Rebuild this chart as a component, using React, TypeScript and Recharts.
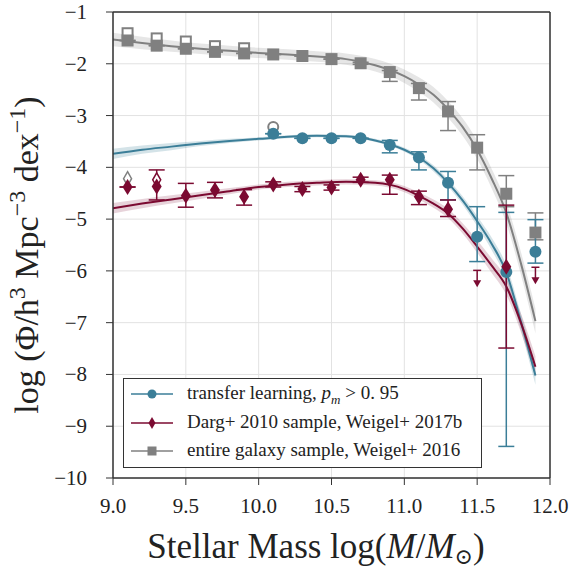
import React from "react";
import { Area, ComposedChart, CartesianGrid, ErrorBar, Line, Scatter, XAxis, YAxis } from "recharts";

document.body.style.margin = "0";

const TEAL = "#3b7e98";
const RED = "#7b0a31";
const GRAY = "#808080";
const FONT = "'Liberation Serif', 'DejaVu Serif', serif";

const xTicks = [9.0, 9.5, 10.0, 10.5, 11.0, 11.5, 12.0];
const yTicks = [-10, -9, -8, -7, -6, -5, -4, -3, -2, -1];

// Weigel+ 2016, whole sample
const grayX = [9.1, 9.3, 9.5, 9.7, 9.9, 10.1, 10.3, 10.5, 10.7, 10.9, 11.1, 11.3, 11.5, 11.7, 11.9];
const grayY = [-1.55, -1.65, -1.71, -1.77, -1.8, -1.82, -1.85, -1.91, -1.99, -2.16, -2.47, -2.92, -3.62, -4.51, -5.26];
const grayLo = [0, 0, 0, 0, 0, 0, 0, 0, 0.02, 0.18, 0.23, 0.37, 0.43, 0.25, 0.14];
const grayHi = [0, 0, 0, 0, 0, 0, 0, 0, 0.02, 0.03, 0.09, 0.19, 0.25, 0.35, 0.38];
const grayOpenX = [9.1, 9.3, 9.5, 9.7, 9.9];
const grayOpenY = [-1.41, -1.51, -1.57, -1.66, -1.7];

// transfer learning
const tealX = [10.1, 10.3, 10.5, 10.7, 10.9, 11.1, 11.3, 11.5, 11.7, 11.9];
const tealY = [-3.35, -3.44, -3.44, -3.44, -3.57, -3.81, -4.3, -5.34, -6.02, -5.63];
const tealLo = [0, 0, 0, 0, 0.15, 0.24, 0.33, 0.48, 3.37, 0.22];
const tealHi = [0, 0, 0, 0, 0.09, 0.11, 0.22, 0.58, 1.15, 0.62];
const tealOpenX = [10.1];
const tealOpenY = [-3.22];

// Darg+ 2010 sample
const redX = [9.1, 9.3, 9.5, 9.7, 9.9, 10.1, 10.3, 10.5, 10.7, 10.9, 11.1, 11.3, 11.7];
const redY = [-4.38, -4.37, -4.55, -4.44, -4.57, -4.33, -4.42, -4.39, -4.24, -4.24, -4.57, -4.81, -5.92];
const redLo = [0, 0.26, 0.22, 0.15, 0.16, 0.05, 0.05, 0.05, 0.05, 0.28, 0.15, 0.14, 1.57];
const redHi = [0, 0.32, 0.24, 0.15, 0.14, 0.05, 0.05, 0.05, 0.05, 0.09, 0.11, 0.18, 1.19];
const redLimX = [11.5, 11.9];
const redLimY = [-5.99, -5.93];
const grayDiamondX = [9.1];
const grayDiamondY = [-4.22];
const redDiamondX = [9.3];
const redDiamondY = [-4.24];

// Schechter fits
const fitX = [9.0, 9.2, 9.4, 9.6, 9.8, 10.0, 10.2, 10.4, 10.6, 10.8, 11.0, 11.1, 11.2, 11.3, 11.4, 11.5, 11.6, 11.7, 11.8, 11.9];
const grayFit = [-1.53, -1.6, -1.66, -1.71, -1.75, -1.79, -1.82, -1.86, -1.91, -2.03, -2.24, -2.4, -2.6, -2.88, -3.22, -3.66, -4.22, -4.88, -5.85, -6.97];
const grayBand = [0.13, 0.12, 0.11, 0.1, 0.1, 0.1, 0.1, 0.1, 0.11, 0.12, 0.13, 0.14, 0.15, 0.16, 0.17, 0.18, 0.19, 0.2, 0.22, 0.24];
const tealFit = [-3.74, -3.66, -3.6, -3.54, -3.49, -3.45, -3.41, -3.39, -3.4, -3.48, -3.66, -3.81, -4.02, -4.3, -4.64, -5.04, -5.48, -6.03, -6.98, -8.02];
const tealBand = [0.1, 0.08, 0.07, 0.05, 0.04, 0.03, 0.03, 0.03, 0.03, 0.03, 0.04, 0.05, 0.06, 0.07, 0.08, 0.1, 0.12, 0.14, 0.16, 0.18];
const redFit = [-4.79, -4.7, -4.62, -4.54, -4.46, -4.38, -4.33, -4.3, -4.28, -4.3, -4.42, -4.55, -4.7, -4.89, -5.18, -5.53, -5.9, -6.3, -7.0, -7.85];
const redBand = [0.1, 0.09, 0.08, 0.07, 0.06, 0.05, 0.05, 0.05, 0.05, 0.05, 0.06, 0.07, 0.08, 0.09, 0.1, 0.12, 0.14, 0.16, 0.18, 0.2];

const points = (xs: number[], ys: number[], lo?: number[], hi?: number[]) =>
  xs.map((x, i) => ({ x, y: ys[i], err: [lo ? lo[i] : 0, hi ? hi[i] : 0] }));

const curve = (ys: number[], w: number[]) =>
  fitX.map((x, i) => ({ x, y: ys[i], band: [ys[i] - w[i], ys[i] + w[i]] }));

const grayPts = points(grayX, grayY, grayLo, grayHi);
const tealPts = points(tealX, tealY, tealLo, tealHi);
const redPts = points(redX, redY, redLo, redHi);

const Circle = ({ cx, cy }: any) => <circle cx={cx} cy={cy} r={6} fill={TEAL} />;
const Diamond = ({ cx, cy }: any) => (
  <polygon points={`${cx},${cy - 8} ${cx + 5},${cy} ${cx},${cy + 8} ${cx - 5},${cy}`} fill={RED} />
);
const Square = ({ cx, cy }: any) => <rect x={cx - 6} y={cy - 6} width={12} height={12} fill={GRAY} />;
const OpenSquare = ({ cx, cy }: any) => (
  <rect x={cx - 5} y={cy - 5} width={10} height={10} fill="#fff" stroke={GRAY} strokeWidth={2} />
);
const OpenCircle = ({ cx, cy }: any) => <circle cx={cx} cy={cy} r={5} fill="#fff" stroke={GRAY} strokeWidth={2} />;
const openDiamond = (color: string) => ({ cx, cy }: any) => (
  <polygon points={`${cx},${cy - 7} ${cx + 4},${cy} ${cx},${cy + 7} ${cx - 4},${cy}`} fill="#fff" stroke={color} strokeWidth={1.5} />
);
const Limit = ({ cx, cy }: any) => (
  <g>
    <line x1={cx - 4} x2={cx + 4} y1={cy} y2={cy} stroke={RED} strokeWidth={1.5} />
    <line x1={cx} x2={cx} y1={cy} y2={cy + 12} stroke={RED} strokeWidth={1.5} />
    <polygon points={`${cx - 4},${cy + 10} ${cx + 4},${cy + 10} ${cx},${cy + 17}`} fill={RED} />
  </g>
);

const XTick = ({ x, y, payload }: any) => (
  <text x={x} y={y + 16} textAnchor="middle" fontFamily={FONT} fontSize={21} fill="#222">
    {Number(payload.value).toFixed(1)}
  </text>
);
const YTick = ({ x, y, payload }: any) => (
  <text x={x} y={y + 7} textAnchor="end" fontFamily={FONT} fontSize={21} fill="#222">
    {payload.value < 0 ? "\u2212" + Math.abs(payload.value) : payload.value}
  </text>
);

const Swatch = ({ color, kind }: { color: string; kind: string }) => (
  <svg width={42} height={14} style={{ position: "absolute", left: 7, top: -7 }}>
    <line x1={0} x2={42} y1={7} y2={7} stroke={color} strokeWidth={1.5} />
    {kind === "c" && <circle cx={21} cy={7} r={4.5} fill={color} />}
    {kind === "d" && <polygon points="21,1 24.5,7 21,13 17.5,7" fill={color} />}
    {kind === "s" && <rect x={16.5} y={2.5} width={9} height={9} fill={color} />}
  </svg>
);

export default function App() {
  return (
    <div style={{ position: "relative", width: 574, height: 568, background: "#fff" }}>
      <ComposedChart width={574} height={568} margin={{ top: 0, right: 0, bottom: 0, left: 0 }}>
        <CartesianGrid stroke="#e2e2e2" strokeWidth={1} horizontalValues={yTicks} verticalValues={xTicks} />
        <XAxis
          dataKey="x"
          type="number"
          domain={[9, 12]}
          ticks={xTicks}
          height={90}
          tickSize={7}
          tickMargin={12}
          tick={<XTick />}
          stroke="#333"
          axisLine={{ stroke: "#333", strokeWidth: 1.5 }}
          allowDataOverflow
        />
        <XAxis
          xAxisId="top"
          orientation="top"
          type="number"
          domain={[9, 12]}
          ticks={xTicks}
          height={12}
          tickSize={7}
          tick={false}
          stroke="#333"
          axisLine={{ stroke: "#333", strokeWidth: 1.5 }}
        />
        <YAxis
          dataKey="y"
          type="number"
          domain={[-10, -1]}
          ticks={yTicks}
          width={113}
          tickSize={7}
          tickMargin={19}
          tick={<YTick />}
          stroke="#333"
          axisLine={{ stroke: "#333", strokeWidth: 1.5 }}
          allowDataOverflow
        />
        <YAxis
          yAxisId="right"
          orientation="right"
          type="number"
          domain={[-10, -1]}
          ticks={yTicks}
          width={24}
          tickSize={7}
          tick={false}
          stroke="#333"
          axisLine={{ stroke: "#333", strokeWidth: 1.5 }}
        />

        <Area data={curve(grayFit, grayBand)} dataKey="band" type="monotone" stroke="none" fill={GRAY} fillOpacity={0.2} isAnimationActive={false} />
        <Area data={curve(tealFit, tealBand)} dataKey="band" type="monotone" stroke="none" fill={TEAL} fillOpacity={0.22} isAnimationActive={false} />
        <Area data={curve(redFit, redBand)} dataKey="band" type="monotone" stroke="none" fill={RED} fillOpacity={0.18} isAnimationActive={false} />

        <Line data={curve(grayFit, grayBand)} dataKey="y" type="monotone" stroke={GRAY} strokeWidth={2} dot={false} isAnimationActive={false} />
        <Line data={curve(tealFit, tealBand)} dataKey="y" type="monotone" stroke={TEAL} strokeWidth={2} dot={false} isAnimationActive={false} />
        <Line data={curve(redFit, redBand)} dataKey="y" type="monotone" stroke={RED} strokeWidth={2} dot={false} isAnimationActive={false} />

        <Scatter data={points(grayOpenX, grayOpenY)} dataKey="y" shape={OpenSquare} isAnimationActive={false} />
        <Scatter data={points(tealOpenX, tealOpenY)} dataKey="y" shape={OpenCircle} isAnimationActive={false} />
        <Scatter data={points(grayDiamondX, grayDiamondY)} dataKey="y" shape={openDiamond(GRAY)} isAnimationActive={false} />
        <Scatter data={points(redDiamondX, redDiamondY)} dataKey="y" shape={openDiamond(RED)} isAnimationActive={false} />

        <Scatter data={grayPts} dataKey="y" shape={Square} isAnimationActive={false}>
          <ErrorBar dataKey="err" direction="y" width={8} stroke={GRAY} strokeWidth={1.5} />
        </Scatter>
        <Scatter data={tealPts} dataKey="y" shape={Circle} isAnimationActive={false}>
          <ErrorBar dataKey="err" direction="y" width={8} stroke={TEAL} strokeWidth={1.5} />
        </Scatter>
        <Scatter data={redPts} dataKey="y" shape={Diamond} isAnimationActive={false}>
          <ErrorBar dataKey="err" direction="y" width={8} stroke={RED} strokeWidth={1.5} />
        </Scatter>
        <Scatter data={points(redLimX, redLimY)} dataKey="y" shape={Limit} isAnimationActive={false} />
      </ComposedChart>

      <svg width={574} height={568} style={{ position: "absolute", left: 0, top: 0, pointerEvents: "none" }}>
        <text x={316} y={558} textAnchor="middle" fontFamily={FONT} fontSize={35} fill="#222">
          Stellar Mass log(<tspan fontStyle="italic">M</tspan>/<tspan fontStyle="italic">M</tspan>
          <tspan fontSize={22} dy={6}>⊙</tspan>
          <tspan dy={-6}>)</tspan>
        </text>
        <text
          transform="translate(38,255) rotate(-90)"
          textAnchor="middle"
          fontFamily={FONT}
          fontSize={34}
          fill="#222"
        >
          log (Φ/h<tspan fontSize={24} dy={-13}>3</tspan>
          <tspan dy={13}> Mpc</tspan>
          <tspan fontSize={24} dy={-13}>−3</tspan>
          <tspan dy={13}> dex</tspan>
          <tspan fontSize={24} dy={-13}>−1</tspan>
          <tspan dy={13}>)</tspan>
        </text>
      </svg>

      <div
        style={{
          position: "absolute",
          left: 123,
          top: 378,
          width: 357,
          height: 88,
          border: "1px solid #333",
          background: "#fff",
          fontFamily: FONT,
          fontSize: 19,
          color: "#222",
        }}
      >
        {[
          { color: TEAL, kind: "c", top: 15, label: <>transfer learning, <i>p</i><sub style={{ fontSize: 13 }}><i>m</i></sub> &gt; 0. 95</> },
          { color: RED, kind: "d", top: 44, label: <>Darg+ 2010 sample, Weigel+ 2017b</> },
          { color: GRAY, kind: "s", top: 72, label: <>entire galaxy sample, Weigel+ 2016</> },
        ].map((r, i) => (
          <div key={i} style={{ position: "absolute", left: 0, top: r.top, width: "100%" }}>
            <Swatch color={r.color} kind={r.kind} />
            <span style={{ position: "absolute", left: 63, top: -12, whiteSpace: "nowrap", lineHeight: "22px" }}>{r.label}</span>
          </div>
        ))}
      </div>
    </div>
  );
}
